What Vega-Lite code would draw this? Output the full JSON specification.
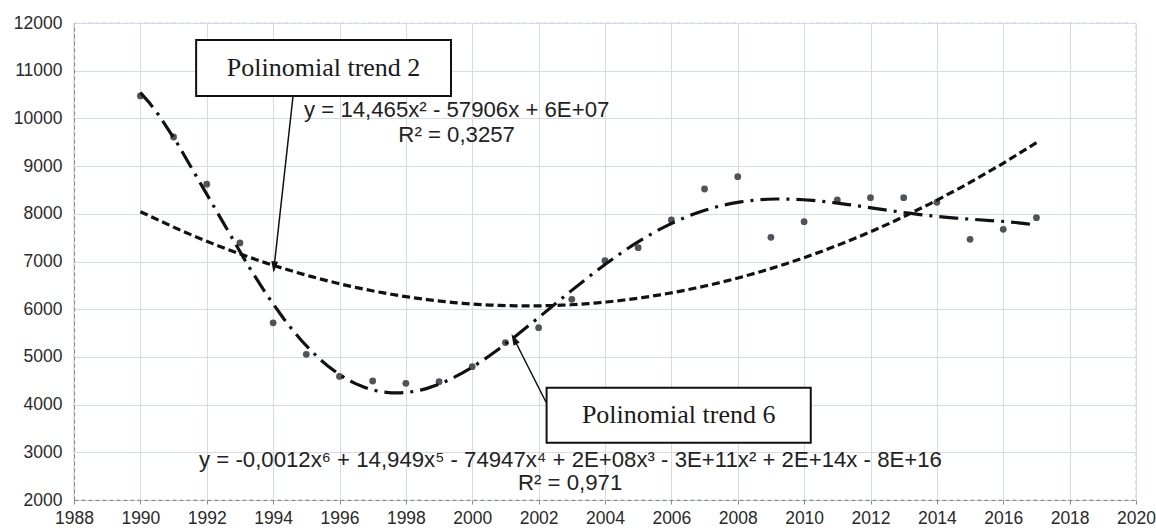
{
  "$schema": "https://vega.github.io/schema/vega-lite/v6.json",
  "width": 1062,
  "height": 477,
  "autosize": {"type": "none"},
  "padding": {"left": 74, "top": 23, "right": 20, "bottom": 28},
  "background": "white",
  "config": {
    "view": {"stroke": "#9a9a9a", "strokeDash": [4, 3], "strokeWidth": 1.2},
    "axis": {
      "labelFont": "Liberation Sans",
      "labelFontSize": 17.5,
      "labelColor": "#2a2a2a",
      "gridColor": "#d3dcef",
      "gridWidth": 1,
      "domainColor": "#8a8a8a",
      "domainDash": [4, 3],
      "domainWidth": 1.2,
      "tickColor": "#8a8a8a",
      "title": null
    }
  },
  "datasets": {
    "obs": [
      {"year": 1990, "value": 10470},
      {"year": 1991, "value": 9610},
      {"year": 1992, "value": 8620},
      {"year": 1993, "value": 7390},
      {"year": 1994, "value": 5715},
      {"year": 1995, "value": 5055},
      {"year": 1996, "value": 4590},
      {"year": 1997, "value": 4495},
      {"year": 1998, "value": 4445},
      {"year": 1999, "value": 4480},
      {"year": 2000, "value": 4795},
      {"year": 2001, "value": 5300},
      {"year": 2002, "value": 5612},
      {"year": 2003, "value": 6207},
      {"year": 2004, "value": 7018},
      {"year": 2005, "value": 7290},
      {"year": 2006, "value": 7870},
      {"year": 2007, "value": 8520},
      {"year": 2008, "value": 8778},
      {"year": 2009, "value": 7507},
      {"year": 2010, "value": 7835},
      {"year": 2011, "value": 8289},
      {"year": 2012, "value": 8337},
      {"year": 2013, "value": 8337},
      {"year": 2014, "value": 8241},
      {"year": 2015, "value": 7465},
      {"year": 2016, "value": 7675},
      {"year": 2017, "value": 7918}
    ],
    "boxes": [
      {"label": "Polinomial trend 2", "x1": 1991.68, "x2": 1999.36, "y1": 11644, "y2": 10470, "cx": 1995.52, "cy": 11057},
      {"label": "Polinomial trend 6", "x1": 2002.24, "x2": 2010.2, "y1": 4354, "y2": 3201, "cx": 2006.22, "cy": 3782}
    ],
    "arrows": [
      {"id": "a2", "x1": 1994.6, "y1": 10470, "x2": 1994.03, "y2": 6885},
      {"id": "a6", "x1": 2002.22, "y1": 4054, "x2": 2001.26, "y2": 5375}
    ],
    "eqs": [
      {"text": "y = 14,465x² - 57906x + 6E+07", "x": 1999.53, "y": 10176},
      {"text": "R² = 0,3257", "x": 1999.53, "y": 9652},
      {"text": "y = -0,0012x⁶ + 14,949x⁵ - 74947x⁴ + 2E+08x³ - 3E+11x² + 2E+14x - 8E+16", "x": 2002.96, "y": 2839},
      {"text": "R² = 0,971", "x": 2002.95, "y": 2363}
    ]
  },
  "layer": [
    {
      "data": {"name": "obs"},
      "mark": {"type": "circle", "color": "#505359", "size": 46, "opacity": 1},
      "encoding": {
        "x": {
          "field": "year", "type": "quantitative",
          "scale": {"domain": [1988, 2020], "nice": false, "zero": false},
          "axis": {"values": [1988,1990,1992,1994,1996,1998,2000,2002,2004,2006,2008,2010,2012,2014,2016,2018,2020], "format": "d", "tickSize": 4, "labelPadding": 5, "labelFlush": false, "labelOverlap": false}
        },
        "y": {
          "field": "value", "type": "quantitative",
          "scale": {"domain": [2000, 12000], "nice": false, "zero": false},
          "axis": {"values": [2000,3000,4000,5000,6000,7000,8000,9000,10000,11000,12000], "format": "d", "ticks": false, "labelPadding": 12, "labelOverlap": false}
        }
      }
    },
    {
      "data": {"name": "obs"},
      "transform": [{"regression": "value", "on": "year", "method": "poly", "order": 2}],
      "mark": {"type": "line", "color": "#111111", "strokeWidth": 3.2, "strokeDash": [8, 4]},
      "encoding": {
        "x": {"field": "year", "type": "quantitative"},
        "y": {"field": "value", "type": "quantitative"}
      }
    },
    {
      "data": {"name": "obs"},
      "transform": [{"regression": "value", "on": "year", "method": "poly", "order": 6}],
      "mark": {"type": "line", "color": "#111111", "strokeWidth": 3.2, "strokeDash": [19, 7, 3, 7]},
      "encoding": {
        "x": {"field": "year", "type": "quantitative"},
        "y": {"field": "value", "type": "quantitative"}
      }
    },
    {
      "data": {"name": "arrows"},
      "mark": {"type": "rule", "color": "#111111", "strokeWidth": 1.5},
      "encoding": {
        "x": {"field": "x1", "type": "quantitative"},
        "y": {"field": "y1", "type": "quantitative"},
        "x2": {"field": "x2"},
        "y2": {"field": "y2"}
      }
    },
    {
      "data": {"name": "arrows"},
      "transform": [{"filter": "datum.id === 'a2'"}],
      "mark": {"type": "point", "shape": "M-0.6,-1L0.6,-1L0,1Z", "filled": true, "color": "#111111", "size": 130, "angle": 6, "opacity": 1, "strokeWidth": 0},
      "encoding": {
        "x": {"field": "x2", "type": "quantitative"},
        "y": {"field": "y2", "type": "quantitative"}
      }
    },
    {
      "data": {"name": "arrows"},
      "transform": [{"filter": "datum.id === 'a6'"}],
      "mark": {"type": "point", "shape": "M-0.6,-1L0.6,-1L0,1Z", "filled": true, "color": "#111111", "size": 130, "angle": 153, "opacity": 1, "strokeWidth": 0},
      "encoding": {
        "x": {"field": "x2", "type": "quantitative"},
        "y": {"field": "y2", "type": "quantitative"}
      }
    },
    {
      "data": {"name": "boxes"},
      "mark": {"type": "rect", "fill": "white", "stroke": "#111111", "strokeWidth": 2},
      "encoding": {
        "x": {"field": "x1", "type": "quantitative"},
        "x2": {"field": "x2"},
        "y": {"field": "y1", "type": "quantitative"},
        "y2": {"field": "y2"}
      }
    },
    {
      "data": {"name": "boxes"},
      "mark": {"type": "text", "font": "Liberation Serif", "fontSize": 26, "color": "#1a1a1a", "align": "center", "baseline": "middle"},
      "encoding": {
        "x": {"field": "cx", "type": "quantitative"},
        "y": {"field": "cy", "type": "quantitative"},
        "text": {"field": "label"}
      }
    },
    {
      "data": {"name": "eqs"},
      "mark": {"type": "text", "font": "Liberation Sans", "fontSize": 22.2, "color": "#222222", "align": "center", "baseline": "middle"},
      "encoding": {
        "x": {"field": "x", "type": "quantitative"},
        "y": {"field": "y", "type": "quantitative"},
        "text": {"field": "text"}
      }
    }
  ]
}
